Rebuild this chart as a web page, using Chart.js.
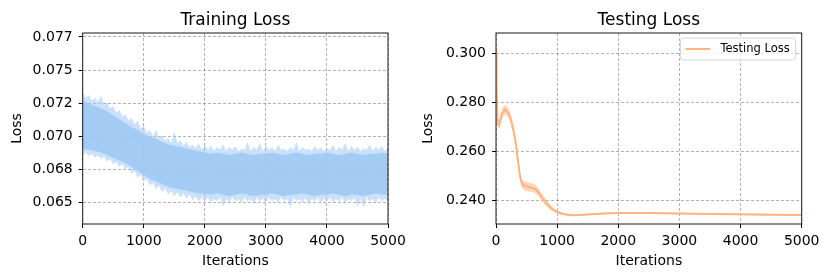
<!DOCTYPE html>
<html>
<head>
<meta charset="utf-8">
<script src="https://cdn.jsdelivr.net/npm/chart.js@4.4.0/dist/chart.umd.min.js"></script>
<style>
  html, body { margin: 0; padding: 0; background: #fff; }
  #wrap { position: relative; width: 831px; height: 280px; }
  canvas { position: absolute; top: 0; }
</style>
</head>
<body>
<div id="wrap">
  <canvas id="trainChart" width="415" height="280" style="left:0px"></canvas>
  <canvas id="testChart" width="416" height="280" style="left:415px"></canvas>
</div>
<script>
// x ticks shared by both plots
const xTicks = [0, 1000, 2000, 3000, 4000, 5000];

// training loss: noisy band, dense core read every 100 iterations
const trainIters = [0, 100, 200, 300, 400, 500, 600, 700, 800, 900, 1000, 1100, 1200, 1300, 1400, 1500, 1600, 1700, 1800, 1900, 2000,
  2100, 2200, 2300, 2400, 2500, 2600, 2700, 2800, 2900, 3000, 3100, 3200, 3300, 3400, 3500, 3600, 3700, 3800, 3900, 4000,
  4100, 4200, 4300, 4400, 4500, 4600, 4700, 4800, 4900, 5000];
const trainInnerTop = [0.0727, 0.0725, 0.0723, 0.0721, 0.0719, 0.0716, 0.0713, 0.0710, 0.0707, 0.0705, 0.0702, 0.0700, 0.0698, 0.0696, 0.0694, 0.0693, 0.0692, 0.0691, 0.0690, 0.0689, 0.0688,
  0.0687, 0.0688, 0.0687, 0.0686, 0.0687, 0.0688, 0.0687, 0.0686, 0.0687, 0.0687, 0.0688, 0.0687, 0.0686, 0.0687, 0.0688, 0.0687, 0.0686, 0.0687, 0.0687, 0.0688,
  0.0687, 0.0686, 0.0687, 0.0688, 0.0687, 0.0686, 0.0687, 0.0687, 0.0688, 0.0687];
const trainInnerBottom = [0.0691, 0.0690, 0.0689, 0.0688, 0.0686, 0.0684, 0.0682, 0.0680, 0.0677, 0.0674, 0.0671, 0.0668, 0.0666, 0.0664, 0.0662, 0.0661, 0.0660, 0.0659, 0.0658, 0.0657, 0.0657,
  0.0656, 0.0657, 0.0656, 0.0655, 0.0656, 0.0657, 0.0656, 0.0655, 0.0656, 0.0656, 0.0657, 0.0656, 0.0655, 0.0656, 0.0656, 0.0657, 0.0656, 0.0655, 0.0656, 0.0656,
  0.0657, 0.0656, 0.0655, 0.0656, 0.0656, 0.0655, 0.0656, 0.0657, 0.0656, 0.0656];

// spiky fringe of the training band, read every 50 iterations
const fringeIters = [0, 50, 100, 150, 200, 250, 300, 350, 400, 450, 500, 550, 600, 650, 700, 750, 800, 850, 900, 950,
  1000, 1050, 1100, 1150, 1200, 1250, 1300, 1350, 1400, 1450, 1500, 1550, 1600, 1650, 1700, 1750, 1800, 1850, 1900, 1950,
  2000, 2050, 2100, 2150, 2200, 2250, 2300, 2350, 2400, 2450, 2500, 2550, 2600, 2650, 2700, 2750, 2800, 2850, 2900, 2950,
  3000, 3050, 3100, 3150, 3200, 3250, 3300, 3350, 3400, 3450, 3500, 3550, 3600, 3650, 3700, 3750, 3800, 3850, 3900, 3950,
  4000, 4050, 4100, 4150, 4200, 4250, 4300, 4350, 4400, 4450, 4500, 4550, 4600, 4650, 4700, 4750, 4800, 4850, 4900, 4950, 5000];
const fringeTop = [0.0733, 0.0729, 0.0731, 0.0727, 0.0729, 0.0726, 0.0731, 0.0724, 0.0726, 0.0721, 0.0723, 0.0718, 0.0720, 0.0715, 0.0717, 0.0712, 0.0714, 0.0709, 0.0712, 0.0706,
  0.0708, 0.0703, 0.0705, 0.0700, 0.0705, 0.0699, 0.0701, 0.0697, 0.0699, 0.0695, 0.0704, 0.0695, 0.0697, 0.0693, 0.0696, 0.0692, 0.0694, 0.0691, 0.0695, 0.0690,
  0.0694, 0.0690, 0.0693, 0.0689, 0.0692, 0.0690, 0.0694, 0.0689, 0.0692, 0.0690, 0.0693, 0.0689, 0.0691, 0.0690, 0.0696, 0.0689, 0.0692, 0.0690, 0.0695, 0.0689,
  0.0693, 0.0690, 0.0692, 0.0689, 0.0694, 0.0690, 0.0691, 0.0689, 0.0692, 0.0690, 0.0696, 0.0689, 0.0692, 0.0690, 0.0691, 0.0689, 0.0693, 0.0690, 0.0692, 0.0689,
  0.0691, 0.0690, 0.0694, 0.0689, 0.0692, 0.0690, 0.0695, 0.0689, 0.0693, 0.0690, 0.0692, 0.0689, 0.0691, 0.0690, 0.0694, 0.0689, 0.0692, 0.0690, 0.0693, 0.0689, 0.0692];
const fringeBottom = [0.0686, 0.0688, 0.0685, 0.0687, 0.0684, 0.0686, 0.0683, 0.0685, 0.0681, 0.0683, 0.0679, 0.0681, 0.0677, 0.0679, 0.0675, 0.0677, 0.0672, 0.0674, 0.0669, 0.0671,
  0.0666, 0.0668, 0.0663, 0.0665, 0.0660, 0.0663, 0.0658, 0.0661, 0.0656, 0.0659, 0.0655, 0.0658, 0.0654, 0.0657, 0.0653, 0.0656, 0.0652, 0.0655, 0.0651, 0.0654,
  0.0651, 0.0654, 0.0650, 0.0653, 0.0651, 0.0654, 0.0647, 0.0653, 0.0650, 0.0654, 0.0651, 0.0653, 0.0650, 0.0654, 0.0651, 0.0653, 0.0649, 0.0654, 0.0651, 0.0653,
  0.0650, 0.0654, 0.0651, 0.0653, 0.0650, 0.0654, 0.0651, 0.0653, 0.0646, 0.0654, 0.0651, 0.0653, 0.0650, 0.0654, 0.0648, 0.0653, 0.0651, 0.0654, 0.0650, 0.0653,
  0.0651, 0.0654, 0.0650, 0.0653, 0.0651, 0.0654, 0.0649, 0.0653, 0.0651, 0.0654, 0.0647, 0.0653, 0.0646, 0.0654, 0.0651, 0.0653, 0.0650, 0.0654, 0.0651, 0.0653, 0.0651];
const trainYTicks = [0.065, 0.0675, 0.07, 0.0725, 0.075, 0.0775];
const trainYLabels = ['0.065', '0.068', '0.070', '0.072', '0.075', '0.077'];

// testing loss: mean line with a thin band
const testIters = [0, 10, 25, 50, 100, 150, 200, 250, 300, 330, 360, 390, 420, 450, 500, 550, 600, 650, 700, 750, 800, 850, 900, 950, 1000,
  1100, 1200, 1300, 1500, 1750, 2000, 2500, 3000, 3500, 4000, 4500, 5000];
const testMean = [0.301, 0.286, 0.272, 0.271, 0.2755, 0.2772, 0.2760, 0.2725, 0.2670, 0.2625, 0.2560, 0.2505, 0.2472, 0.2463, 0.2458, 0.2455, 0.2452, 0.2447, 0.2432, 0.2414, 0.2398, 0.2383, 0.2370, 0.2361, 0.2354,
  0.2346, 0.2342, 0.2341, 0.2344, 0.2348, 0.2350, 0.2350, 0.2348, 0.2346, 0.2345, 0.2343, 0.2342];
const testUpper = [0.3025, 0.288, 0.274, 0.273, 0.2775, 0.2792, 0.2780, 0.2745, 0.2690, 0.2645, 0.2580, 0.2523, 0.2490, 0.2481, 0.2476, 0.2473, 0.2470, 0.2465, 0.2448, 0.2429, 0.2412, 0.2395, 0.2380, 0.2369, 0.2360,
  0.2350, 0.2345, 0.2344, 0.2347, 0.2351, 0.2353, 0.2353, 0.2351, 0.2349, 0.2348, 0.2346, 0.2345];
const testLower = [0.2995, 0.284, 0.270, 0.269, 0.2735, 0.2752, 0.2740, 0.2705, 0.2650, 0.2605, 0.2540, 0.2487, 0.2454, 0.2445, 0.2440, 0.2437, 0.2434, 0.2429, 0.2416, 0.2399, 0.2384, 0.2371, 0.2360, 0.2353, 0.2348,
  0.2342, 0.2339, 0.2338, 0.2341, 0.2345, 0.2347, 0.2347, 0.2345, 0.2343, 0.2342, 0.2340, 0.2339];
const testYTicks = [0.24, 0.26, 0.28, 0.30];
const testYLabels = ['0.240', '0.260', '0.280', '0.300'];

const orange = 'rgb(255, 180, 130)';

Chart.defaults.font.family = '"DejaVu Sans", sans-serif';
Chart.defaults.color = '#000';

function pts(xs, ys) {
  return xs.map((x, i) => ({ x: x, y: ys[i] }));
}

// matplotlib-like box around the plot area, and the title centred over it
const framePlugin = {
  id: 'frame',
  afterDatasetsDraw(chart) {
    const { ctx, chartArea: a } = chart;
    ctx.save();
    ctx.strokeStyle = '#1a1a1a';
    ctx.lineWidth = 1;
    ctx.strokeRect(a.left, a.top, a.right - a.left, a.bottom - a.top);
    ctx.restore();
  },
  afterDraw(chart, args, opts) {
    const { ctx, chartArea: a } = chart;
    ctx.save();
    ctx.font = '17px "DejaVu Sans"';
    ctx.fillStyle = '#000';
    ctx.textAlign = 'center';
    ctx.textBaseline = 'alphabetic';
    ctx.fillText(opts.text, (a.left + a.right) / 2, 25);
    ctx.restore();
  }
};

// legend box in the upper right corner of the plot area
const boxLegend = {
  id: 'boxLegend',
  afterDraw(chart) {
    const ds = chart.data.datasets[0];
    const { ctx, chartArea: a } = chart;
    ctx.save();
    ctx.font = '11.5px "DejaVu Sans"';
    const tw = ctx.measureText(ds.label).width;
    const w = 40 + tw + 6;
    const h = 22;
    const x = a.right - 6 - w;
    const y = a.top + 5;
    ctx.beginPath();
    if (ctx.roundRect) ctx.roundRect(x, y, w, h, 3); else ctx.rect(x, y, w, h);
    ctx.fillStyle = 'rgba(255,255,255,0.8)';
    ctx.fill();
    ctx.strokeStyle = '#d4d4d4';
    ctx.lineWidth = 1;
    ctx.stroke();
    ctx.strokeStyle = ds.borderColor;
    ctx.lineWidth = 2;
    ctx.beginPath();
    ctx.moveTo(x + 5, y + h / 2);
    ctx.lineTo(x + 30, y + h / 2);
    ctx.stroke();
    ctx.fillStyle = '#000';
    ctx.textBaseline = 'middle';
    ctx.fillText(ds.label, x + 40, y + h / 2 + 0.5);
    ctx.restore();
  }
};

function makeOptions(cfg) {
  const grid = {
    color: 'rgba(0,0,0,0.38)',
    lineWidth: 0.8,
    tickColor: '#000',
    tickLength: 4,
    tickWidth: 1,
    tickBorderDash: []
  };
  return {
    responsive: false,
    animation: false,
    events: [],
    devicePixelRatio: 1,
    layout: { padding: { left: 0, right: cfg.padRight, top: 33, bottom: 0 } },
    plugins: {
      legend: { display: false },
      tooltip: { enabled: false },
      title: { display: false },
      frame: { text: cfg.title }
    },
    scales: {
      x: {
        type: 'linear',
        min: 0,
        max: 5000,
        afterFit: (s) => { s.height = 56; },
        afterBuildTicks: (s) => { s.ticks = xTicks.map(v => ({ value: v })); },
        ticks: {
          font: { size: 14 },
          color: '#000',
          padding: 5,
          maxRotation: 0,
          autoSkip: false,
          callback: (v) => String(v)
        },
        grid: grid,
        border: { display: false, dash: [3, 2] },
        title: {
          display: true,
          text: 'Iterations',
          font: { size: 14 },
          color: '#000',
          padding: { top: 0, bottom: 10.6 }
        }
      },
      y: {
        type: 'linear',
        min: cfg.yMin,
        max: cfg.yMax,
        afterFit: (s) => { s.width = cfg.yWidth; },
        afterBuildTicks: (s) => { s.ticks = cfg.yTicks.map(v => ({ value: v })); },
        ticks: {
          font: { size: 14 },
          color: '#000',
          padding: 6,
          autoSkip: false,
          callback: (v, i) => cfg.yLabels[i]
        },
        grid: grid,
        border: { display: false, dash: [3, 2] },
        title: {
          display: true,
          text: 'Loss',
          font: { size: 14 },
          color: '#000',
          padding: { top: cfg.yTitlePad, bottom: 0 }
        }
      }
    }
  };
}

new Chart(document.getElementById('trainChart'), {
  type: 'line',
  data: {
    datasets: [
      { label: 'core top', data: pts(trainIters, trainInnerTop), borderWidth: 0, pointRadius: 0, fill: '+1', backgroundColor: 'rgba(161,201,244,0.9)' },
      { label: 'core bottom', data: pts(trainIters, trainInnerBottom), borderWidth: 0, pointRadius: 0, fill: false },
      { label: 'fringe top', data: pts(fringeIters, fringeTop), borderWidth: 0, pointRadius: 0, fill: '+1', backgroundColor: 'rgba(161,201,244,0.55)' },
      { label: 'fringe bottom', data: pts(fringeIters, fringeBottom), borderWidth: 0, pointRadius: 0, fill: false }
    ]
  },
  options: makeOptions({
    title: 'Training Loss', padRight: 27, yWidth: 82.7, yTitlePad: 8.6,
    yMin: 0.0634, yMax: 0.0778, yTicks: trainYTicks, yLabels: trainYLabels
  }),
  plugins: [framePlugin]
});

new Chart(document.getElementById('testChart'), {
  type: 'line',
  data: {
    datasets: [
      { label: 'Testing Loss', data: pts(testIters, testMean), borderColor: orange, borderWidth: 2, pointRadius: 0, fill: false, tension: 0 },
      { label: 'upper', data: pts(testIters, testUpper), borderWidth: 0, pointRadius: 0, fill: '+1', backgroundColor: 'rgba(255,180,130,0.55)' },
      { label: 'lower', data: pts(testIters, testLower), borderWidth: 0, pointRadius: 0, fill: false }
    ]
  },
  options: makeOptions({
    title: 'Testing Loss', padRight: 29.3, yWidth: 81, yTitlePad: 4.6,
    yMin: 0.2305, yMax: 0.3084, yTicks: testYTicks, yLabels: testYLabels
  }),
  plugins: [framePlugin, boxLegend]
});
</script>
</body>
</html>
